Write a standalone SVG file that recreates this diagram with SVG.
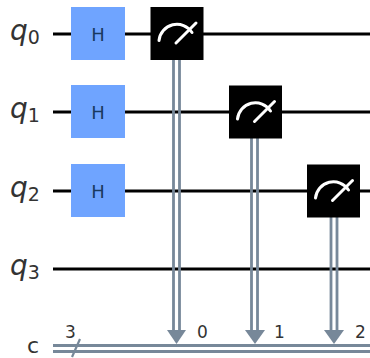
<svg xmlns="http://www.w3.org/2000/svg" width="370" height="358" viewBox="0 0 370 358">
<style>
.wire{stroke:#000;stroke-width:2.8;fill:none}
.cw{stroke:#778899;stroke-width:2.8;fill:none}
.h{fill:#6fa4ff}
.m{fill:#000}
.dial{stroke:#fff;stroke-width:3;fill:none;stroke-linecap:round}
.q{font-family:"DejaVu Sans",sans-serif;font-style:oblique;font-size:28px;fill:#333}
.s{font-family:"DejaVu Sans",sans-serif;font-style:normal;font-size:19px;fill:#333}
.c{font-family:"DejaVu Sans",sans-serif;font-size:22px;fill:#333}
.n{font-family:"DejaVu Sans",sans-serif;font-size:17px;fill:#333}
.g{font-family:"DejaVu Sans",sans-serif;font-size:18px;fill:#1a3a5f;text-anchor:middle}
</style>
<defs>
<g id="meter"><rect class="m" x="-26.500" y="-26.500" width="53" height="53"/><path class="dial" d="M-18 7A18 18 0 0 1 15 -1"/><path class="dial" d="M-1 9.500L19 -10.500"/></g>
<g id="hg"><rect class="h" x="-27" y="-27" width="54" height="53"/></g>
</defs>
<g id="connectors">
<path class="wire" d="M53 34H370M53 112H370M53 191H370M53 269H370"/>
<path class="cw" d="M53 345.500H370M53 351.500H370"/>
<path stroke="#778899" stroke-width="2.200" d="M72 357L80 339" fill="none"/>
<path class="cw" d="M173.500 60V332M179.500 60V332M251.500 138V332M257.500 138V332M331 217V332M337 217V332"/>
<polygon fill="#778899" points="167,330 186,330 176.500,344"/>
<polygon fill="#778899" points="245,330 265,330 255,344"/>
<polygon fill="#778899" points="324,330 344,330 334,344"/>
</g>
<g id="q0"><text class="q" x="10" y="40">q<tspan class="s" dy="4">0</tspan></text></g>
<g id="q1"><text class="q" x="10" y="118">q<tspan class="s" dy="4">1</tspan></text></g>
<g id="q2"><text class="q" x="10" y="197">q<tspan class="s" dy="4">2</tspan></text></g>
<g id="q3"><text class="q" x="10" y="275">q<tspan class="s" dy="4">3</tspan></text></g>
<g id="c"><text class="c" x="27" y="352.500">c</text><text class="n" x="65" y="338">3</text></g>
<g id="h0"><use href="#hg" transform="translate(98 34)"/><text class="g" x="98" y="41">H</text></g>
<g id="h1"><use href="#hg" transform="translate(98 112)"/><text class="g" x="98" y="119">H</text></g>
<g id="h2"><use href="#hg" transform="translate(98 191)"/><text class="g" x="98" y="198">H</text></g>
<g id="m0"><use href="#meter" transform="translate(177 33.500)"/></g>
<g id="m1"><use href="#meter" transform="translate(255.500 112)"/></g>
<g id="m2"><use href="#meter" transform="translate(333.500 191)"/></g>
<g id="labels"><text class="n" x="197" y="338">0</text><text class="n" x="274" y="338">1</text><text class="n" x="355" y="338">2</text></g>
</svg>
